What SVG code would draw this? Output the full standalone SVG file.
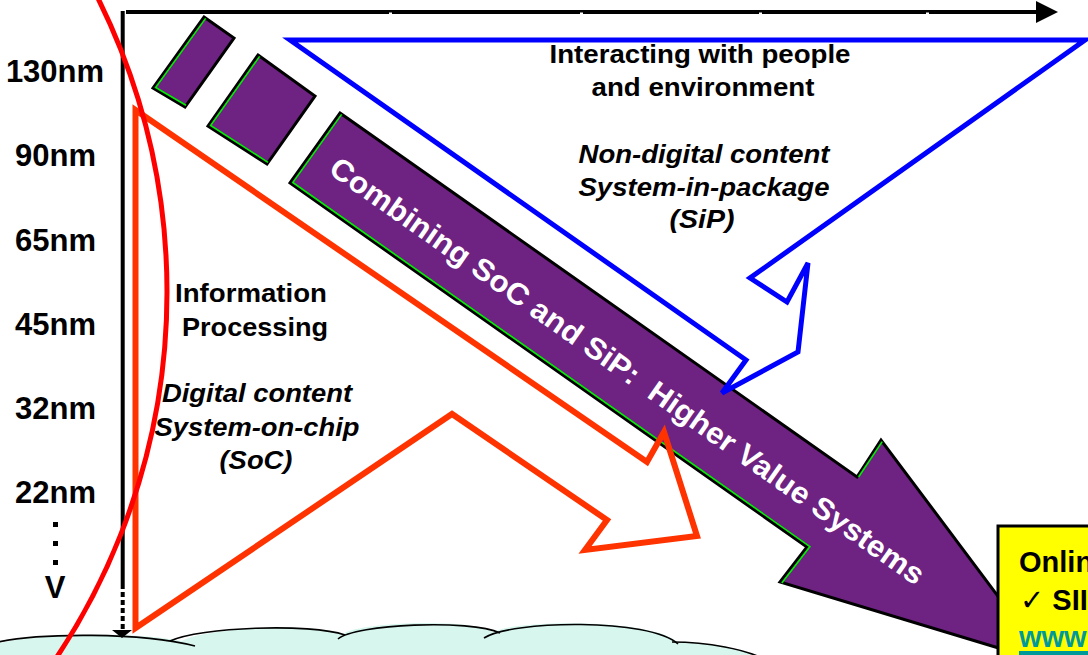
<svg xmlns="http://www.w3.org/2000/svg" width="1088" height="655" viewBox="0 0 1088 655">
  <defs>
    <style>
      .lbl { font-family: "Liberation Sans", Arial, sans-serif; font-weight: bold; fill: #000; }
      .it { font-style: italic; }
      .nm { font-size: 31px; text-anchor: middle; }
      .body { font-size: 26px; text-anchor: middle; }
      .purple { fill: #6e2282; stroke: #000; stroke-width: 3; stroke-linejoin: miter; }
      .hi { fill: none; stroke: #00ee00; stroke-width: 1.6; }
      .bump { fill: none; stroke: #000; stroke-width: 1.6; }
    </style>
  </defs>

  <rect width="1088" height="655" fill="#fff"/>

  <!-- cloud along the bottom -->
  <g id="cloud">
    <path d="M0,657 L0,643 C40,634 130,631 182,641 C205,628 310,622 343,634 C360,622 470,618 493,632 C515,620 650,618 677,642 C710,643 745,650 762,657 Z" fill="#d6f6ee"/>
    <path class="bump" d="M-2,642 C40,633 140,632 195,646"/>
    <path class="bump" d="M170,641 C200,627 310,623 345,635"/>
    <path class="bump" d="M338,639 C355,624 470,619 500,633"/>
    <path class="bump" d="M484,638 C512,620 650,618 678,644"/>
    <path class="bump" d="M672,642 C710,642 745,650 762,658"/>
  </g>

  <!-- axes -->
  <g id="connectors">
    <line x1="126" y1="12" x2="1038" y2="12" stroke="#000" stroke-width="4"/>
    <polygon points="1036,1 1058,12 1036,23" fill="#000"/>
    <g fill="#fff">
      <rect x="389" y="12.5" width="3" height="2"/>
      <rect x="580" y="12.5" width="3" height="2"/>
      <rect x="759" y="12.5" width="3" height="2"/>
      <rect x="926" y="12.5" width="3" height="2"/>
    </g>
    <line x1="122.7" y1="11" x2="122.7" y2="584" stroke="#000" stroke-width="4"/>
    <line x1="122.7" y1="584" x2="122.7" y2="631" stroke="#000" stroke-width="4" stroke-dasharray="5,3"/>
    <polygon points="112,630 132,630 122,638" fill="#000"/>
  </g>

  <!-- node sizes on the vertical axis -->
  <g id="node-labels">
    <text class="lbl nm" x="55" y="82">130nm</text>
    <text class="lbl nm" x="55.5" y="166">90nm</text>
    <text class="lbl nm" x="55.5" y="251">65nm</text>
    <text class="lbl nm" x="55.5" y="335">45nm</text>
    <text class="lbl nm" x="55.5" y="419">32nm</text>
    <text class="lbl nm" x="55.5" y="503">22nm</text>
    <rect x="53" y="522" width="5" height="5"/>
    <rect x="53" y="541" width="5" height="5"/>
    <rect x="53" y="560" width="5" height="5"/>
    <text class="lbl nm" x="55" y="598">V</text>
  </g>

  <!-- purple blocks and the big combining arrow -->
  <g id="block-1">
    <polygon class="purple" points="204,17 234,38 185,107 153,88"/>
    <polyline class="hi" points="205.6,18.4 155.6,87.5 186,105.3"/>
  </g>
  <g id="block-2">
    <polygon class="purple" points="258,55 315,96 267,164 208,126"/>
    <polyline class="hi" points="259.6,56.4 210.6,125.5 268,162.3"/>
  </g>
  <g id="soc-sip-arrow">
    <polygon class="purple" points="340,113 857,477 881,440 1048,663 780,582 807,547 290,183"/>
    <polyline class="hi" points="341.6,114.4 292.8,182.5 809.9,546.6 781.8,583"/>
    <polyline class="hi" points="858.6,477 882.2,441.6"/>
    <text class="lbl" transform="rotate(35.1)" x="367" y="-47" font-size="30" fill="#fff" style="fill:#fff" textLength="719" lengthAdjust="spacingAndGlyphs" xml:space="preserve">Combining SoC and SiP:  Higher Value Systems</text>
  </g>

  <!-- SiP arrow (blue) -->
  <g id="sip-arrow">
    <polygon points="290,40 1085,40 750,278 787,302 808,263 798,352 722,393 746,360" fill="none" stroke="#0000ff" stroke-width="5" stroke-linejoin="miter"/>
    <text class="lbl body" x="700" y="63" textLength="301" lengthAdjust="spacingAndGlyphs">Interacting with people</text>
    <text class="lbl body" x="703" y="96" textLength="223" lengthAdjust="spacingAndGlyphs">and environment</text>
    <text class="lbl body it" x="704" y="163" textLength="251" lengthAdjust="spacingAndGlyphs">Non-digital content</text>
    <text class="lbl body it" x="704" y="196" textLength="251" lengthAdjust="spacingAndGlyphs">System-in-package</text>
    <text class="lbl body it" x="702" y="228" textLength="65" lengthAdjust="spacingAndGlyphs">(SiP)</text>
  </g>

  <!-- SoC arrow (orange) -->
  <g id="soc-arrow">
    <polygon points="135.5,110 647,462 664,432 697,536 585,550 607,520 452,414 135.5,628" fill="none" stroke="#ff3300" stroke-width="6" stroke-linejoin="miter"/>
    <text class="lbl body" x="251" y="302" textLength="152" lengthAdjust="spacingAndGlyphs">Information</text>
    <text class="lbl body" x="255" y="336" textLength="146" lengthAdjust="spacingAndGlyphs">Processing</text>
    <text class="lbl body it" x="257" y="402" textLength="190" lengthAdjust="spacingAndGlyphs">Digital content</text>
    <text class="lbl body it" x="257" y="436" textLength="205" lengthAdjust="spacingAndGlyphs">System-on-chip</text>
    <text class="lbl body it" x="256" y="469" textLength="73" lengthAdjust="spacingAndGlyphs">(SoC)</text>
  </g>

  <!-- resource note box -->
  <g id="note">
    <rect x="998" y="526" width="100" height="140" fill="#ffff00" stroke="#000" stroke-width="3"/>
    <text class="lbl" x="1019" y="572" font-size="29">Online</text>
    <text x="1020" y="610" font-size="29" font-weight="bold" font-family="'Liberation Sans', 'DejaVu Sans', sans-serif">✓ SII</text>
    <text x="1019" y="647" font-size="29" font-weight="bold" font-family="'Liberation Sans', Arial, sans-serif" fill="#009999">www</text>
    <rect x="1019" y="651" width="80" height="4" fill="#009999"/>
  </g>

  <!-- red boundary arc -->
  <g id="boundary">
    <circle cx="-492" cy="292" r="659" fill="none" stroke="#ff0000" stroke-width="5"/>
  </g>
</svg>
